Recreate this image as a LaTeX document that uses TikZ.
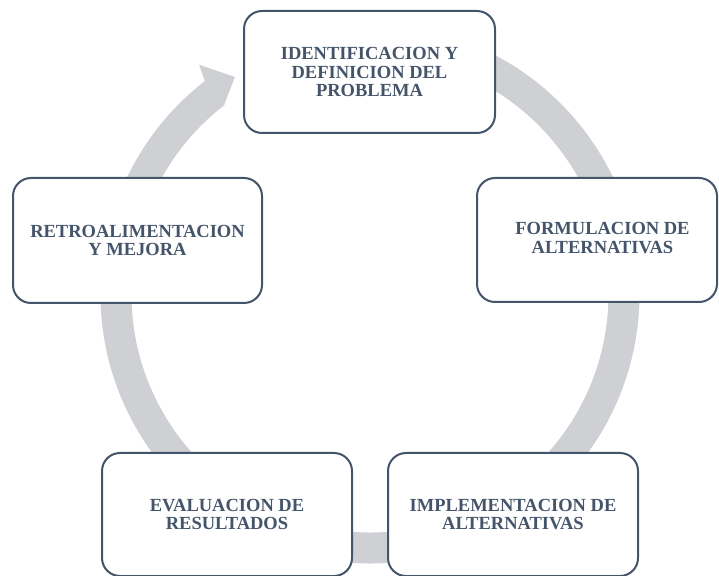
\documentclass[tikz,border=0pt]{standalone}
\usepackage{fontspec}
\setmainfont{Liberation Serif}
\definecolor{boxline}{HTML}{44546A}
\definecolor{ringgray}{RGB}{207,208,212}
\begin{document}
\begin{tikzpicture}[x=1pt,y=1pt,
  stepbox/.style={draw=boxline, line width=2pt, fill=white, rounded corners=18pt,
    text=boxline, font=\fontsize{18.5}{18.7}\selectfont\bfseries, align=center,
    inner sep=0pt, minimum height=123pt},
  ring/.style={draw=ringgray, line width=31pt, line cap=butt}]
\useasboundingbox (0,0) rectangle (719,575);
\clip (0,0) rectangle (719,575);
\coordinate (c) at (370,281);
% circular arrow (drawn behind the boxes)
\draw[ring] ([shift={(85:254)}]c) arc[start angle=85, end angle=-232.4, radius=254pt];
\fill[ringgray, shift={(370,281)}] (127.8:238.5) -- (127.8:269.5) -- (126.7:286) -- (121.9:255.6) -- cycle;
% boxes
\node[stepbox, minimum width=251pt, minimum height=122pt] (ident) at (369.5,503) {IDENTIFICACION Y\\DEFINICION DEL\\PROBLEMA};
\node[stepbox, minimum width=240pt, minimum height=124pt] (form) at (597,335) {\hspace*{11pt}\begin{tabular}{@{}c@{}}FORMULACION DE\\ALTERNATIVAS\end{tabular}};
\node[stepbox, minimum width=250pt] (impl) at (513,60.5) {IMPLEMENTACION DE\\ALTERNATIVAS};
\node[stepbox, minimum width=250pt] (eval) at (227,60.5) {EVALUACION DE\\RESULTADOS};
\node[stepbox, minimum width=249pt, minimum height=125pt] (retro) at (137.5,334.5) {RETROALIMENTACION\\Y MEJORA};
\end{tikzpicture}
\end{document}
